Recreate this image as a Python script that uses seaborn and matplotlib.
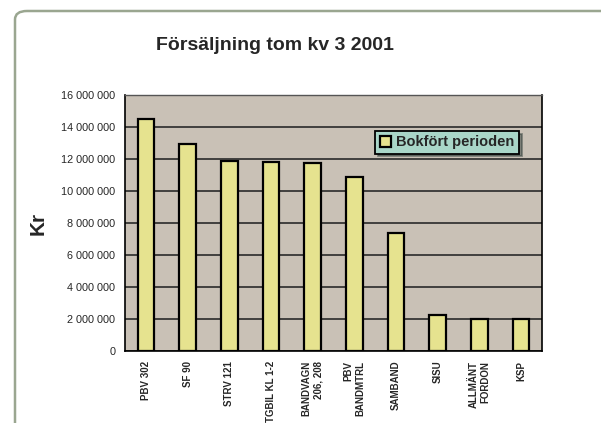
import numpy as np
import pandas as pd
import matplotlib
matplotlib.use("Agg")
import matplotlib.pyplot as plt
import seaborn as sns
from matplotlib.patches import FancyBboxPatch
from matplotlib.ticker import FuncFormatter, FixedLocator

categories = ["PBV 302", "SF 90", "STRV 121", "TGBIL KL 1-2", "BANDVAGN\n206, 208",
              "PBV\nBANDMTRL", "SAMBAND", "SISU", "ALLMÄNT\nFORDON", "KSP"]
values = [14_480_000, 12_920_000, 11_900_000, 11_800_000, 11_730_000,
          10_850_000, 7_390_000, 2_250_000, 1_980_000, 1_980_000]
series_name = "Bokfört perioden"
title = "Försäljning tom kv 3 2001"
y_label = "Kr"
y_ticks = [0, 2_000_000, 4_000_000, 6_000_000, 8_000_000, 10_000_000,
           12_000_000, 14_000_000, 16_000_000]

sns.set_style("white")
plt.rcParams["font.family"] = ["Liberation Sans", "DejaVu Sans"]

df = pd.DataFrame({"cat": categories, "val": values})

fig = plt.figure(figsize=(6.01, 4.23), dpi=100)
ax = fig.add_axes([125/601, 1-351/423, (542-125)/601, (351-95)/423])
ax.set_facecolor("#c9c1b6")

sns.barplot(data=df, x="cat", y="val", ax=ax, color="#e6e38f", edgecolor="black",
            linewidth=1.6, width=0.4, saturation=1, label=series_name, zorder=3)

ax.set_ylim(0, 16_000_000)
ax.set_xlim(-0.5, len(categories) - 0.5)
ax.yaxis.set_major_locator(FixedLocator(y_ticks))
ax.yaxis.set_major_formatter(FuncFormatter(lambda v, p: f"{v:,.0f}".replace(",", " ")))
ax.grid(axis="y", color="#2a2a2a", linewidth=1.2, zorder=0)
ax.set_axisbelow(True)

ax.set_xlabel("")
ax.set_ylabel(y_label, fontsize=15, fontweight="bold")
ax.yaxis.set_label_coords(-0.185, 0.5)

ax.tick_params(axis="y", labelsize=7.8, length=4, width=1, direction="out", pad=3)
ax.tick_params(axis="x", which="major", length=0, labelsize=7, pad=7)
ax.set_xticks(np.arange(-0.5, len(categories), 1), minor=True)
ax.tick_params(axis="x", which="minor", length=4, width=1, direction="out")
for lab in ax.get_xticklabels():
    lab.set_rotation(90)
    lab.set_va("top")
    lab.set_ha("center")
    lab.set_multialignment("right")
    lab.set_fontweight("bold")

for side in ["left", "bottom", "right"]:
    ax.spines[side].set_color("black")
    ax.spines[side].set_linewidth(1.2)
ax.spines["top"].set_color("#555555")
ax.spines["top"].set_linewidth(1.0)
ax.spines["left"].set_linestyle((0, (3, 1)))

leg = ax.legend(loc="upper left", bbox_to_anchor=(0.6, 0.86), fontsize=10.5,
                frameon=True, fancybox=False, shadow=True, borderpad=0.3,
                handlelength=0.8, handleheight=0.8, handletextpad=0.35,
                borderaxespad=0)
leg.get_frame().set_facecolor("#a9d6c8")
leg.get_frame().set_edgecolor("black")
leg.get_frame().set_linewidth(1.3)
leg.get_frame().set_alpha(1)
for t in leg.get_texts():
    t.set_fontweight("bold")

fig.text(275/601, 1-45/423, title, ha="center", va="center",
         fontsize=14, fontweight="bold")

frame = FancyBboxPatch((15/601, -0.2), 1.2, 0.2 + 1 - 11/423,
                       boxstyle="round,pad=0,rounding_size=0.02",
                       transform=fig.transFigure, facecolor="none",
                       edgecolor="#9aa690", linewidth=1.8, zorder=-1)
fig.patches.append(frame)

fig.savefig("out.png", dpi=100)
